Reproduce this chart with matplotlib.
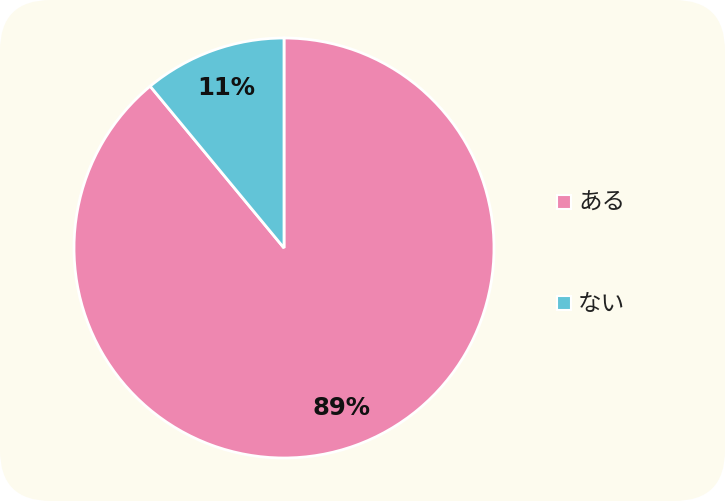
import matplotlib
matplotlib.use("Agg")
import matplotlib.pyplot as plt
from matplotlib.patches import FancyBboxPatch
from matplotlib.lines import Line2D

categories = ["ある", "ない"]
values = [89, 11]
colors = ["#EE87B0", "#62C4D7"]

W, H = 725, 501
fig = plt.figure(figsize=(W/100, H/100), dpi=100)
fig.patch.set_facecolor("white")

bg = FancyBboxPatch((0, 0), 1, 1, boxstyle="round,pad=0,rounding_size=0.07",
                    transform=fig.transFigure, facecolor="#FDFBEE", edgecolor="none",
                    mutation_aspect=W/H, zorder=-10)
fig.patches.append(bg)

cx, cy, r = 284, 248, 210
ax = fig.add_axes([(cx - r)/W, (H - cy - r)/H, 2*r/W, 2*r/H])
ax.set_facecolor("none")
ax.set_zorder(1)
wedges, texts, autotexts = ax.pie(values, colors=colors, startangle=90, counterclock=False,
       autopct=lambda p: f"{p:.0f}%", pctdistance=0.81,
       wedgeprops=dict(edgecolor="white", linewidth=2),
       textprops=dict(fontsize=17.5, fontweight="bold", color="#111111", family="DejaVu Sans"))
ax.set_xlim(-1, 1); ax.set_ylim(-1, 1)
ax.set_aspect("equal")
ax.axis("off")

handles = [Line2D([], [], marker="s", linestyle="none", markersize=10,
                  markerfacecolor=c, markeredgecolor="white", markeredgewidth=1.5) for c in colors]
leg = fig.legend(handles, categories, loc="center left", bbox_to_anchor=(531/W, 1 - 254/H),
                 frameon=False, labelspacing=3.3, handletextpad=0.1, handlelength=1.0,
                 prop=dict(family=["Noto Sans CJK JP", "DejaVu Sans"], size=17))
leg.set_zorder(2)
for t in leg.get_texts():
    t.set_color("#222222")

fig.savefig("out.png", dpi=100, facecolor=fig.get_facecolor())
